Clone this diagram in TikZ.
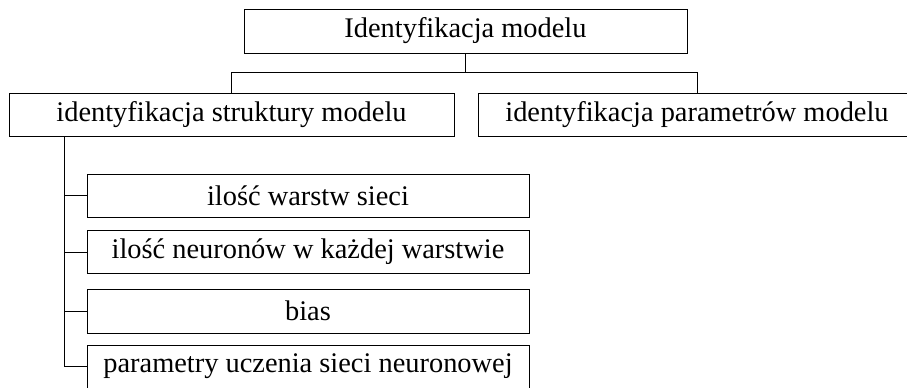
\documentclass[tikz,border=0pt]{standalone}
\usepackage{fontspec}
\setmainfont{Liberation Serif}
\begin{document}
\begin{tikzpicture}[x=0.5pt,y=-0.5pt,
  every node/.style={font=\fontsize{14.2}{17}\selectfont},
  box/.style={draw, line width=0.5pt, inner sep=0pt, minimum height=21.5pt},
  conn/.style={draw, line width=0.5pt}]
\useasboundingbox (0,0) rectangle (907,387);
\clip (0,0) rectangle (907,387);
\node[box, minimum width=221.5pt, minimum height=22pt] (top) at (465.5,31) {Identyfikacja modelu};
\node[box, minimum width=222.5pt] (left2) at (231.5,114.5) {identyfikacja struktury modelu};
\node[box, minimum width=219pt] (right2) at (697,114.5) {identyfikacja parametrów modelu};
\node[box, minimum width=221pt] (s1) at (308,195.5) {ilość warstw sieci};
\node[box, minimum width=221pt] (s2) at (308,252) {ilość neuronów w każdej warstwie};
\node[box, minimum width=221pt, minimum height=22pt] (s3) at (308,311) {bias};
\node[box, minimum width=221pt] (s4) at (308,366.5) {parametry uczenia sieci neuronowej};
\coordinate (bus) at (0,72);
\coordinate (trunk) at (64,136);
\draw[conn] (top.south) -- (top.south |- bus);
\draw[conn] (left2.north) |- (bus -| right2.north) -- (right2.north);
\draw[conn] (trunk) |- (s4.west);
\draw[conn] (trunk |- s1.west) -- (s1.west);
\draw[conn] (trunk |- s2.west) -- (s2.west);
\draw[conn] (trunk |- s3.west) -- (s3.west);
\end{tikzpicture}
\end{document}
